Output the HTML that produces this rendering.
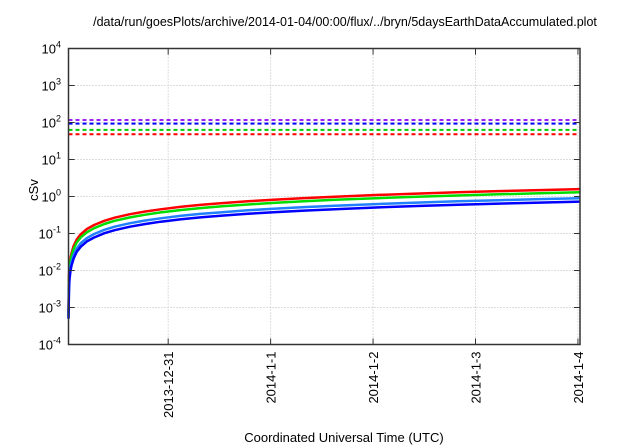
<!DOCTYPE html>
<html><head><meta charset="utf-8"><style>
body{margin:0;background:#fff;}
svg{display:block;font-family:"Liberation Sans",sans-serif;}
</style></head><body>
<svg id="chart" width="640" height="448">
<text x="345" y="26" font-size="12.5" text-anchor="middle">/data/run/goesPlots/archive/2014-01-04/00:00/flux/../bryn/5daysEarthDataAccumulated.plot</text>
<text transform="translate(38,190) rotate(-90)" font-size="13" text-anchor="middle">cSv</text>
<text x="344" y="442" font-size="13" text-anchor="middle">Coordinated Universal Time (UTC)</text>
<g id="grid"></g><g id="series"></g><g id="axes"></g>
</svg>
<script>
const xTickLabels = ["2013-12-31","2014-1-1","2014-1-2","2014-1-3","2014-1-4"];
const xTickValues = [0,1,2,3,4];
const yTickExps = [-4,-3,-2,-1,0,1,2,3,4];
// time in days relative to 2013-12-31 00:00 UTC
const times = [-0.973,-0.968,-0.963,-0.953,-0.943,-0.923,-0.893,-0.853,-0.793,-0.723,-0.623,-0.523,-0.373,-0.223,-0.073,0.127,0.327,0.527,0.777,1.027,1.327,1.627,2.027,2.427,2.827,3.227,3.627,4.02];
const redValues = [0.0007,0.0072,0.0125,0.0218,0.030,0.046,0.069,0.096,0.132,0.170,0.221,0.268,0.333,0.394,0.452,0.526,0.596,0.662,0.742,0.818,0.905,0.990,1.097,1.200,1.300,1.397,1.492,1.583];
const greenValues = [0.0006,0.0059,0.0103,0.0179,0.025,0.038,0.057,0.079,0.108,0.139,0.181,0.220,0.273,0.323,0.371,0.431,0.489,0.543,0.608,0.671,0.742,0.812,0.900,0.984,1.066,1.146,1.223,1.30];
const lightBlueValues = [0.0005,0.0041,0.0071,0.0124,0.0171,0.026,0.039,0.055,0.075,0.097,0.126,0.153,0.190,0.225,0.258,0.300,0.340,0.377,0.423,0.466,0.516,0.564,0.625,0.684,0.741,0.796,0.850,0.90];
const blueValues = [0.0005,0.0033,0.0058,0.0100,0.0138,0.021,0.032,0.044,0.061,0.078,0.102,0.123,0.153,0.181,0.208,0.242,0.274,0.304,0.341,0.376,0.416,0.455,0.504,0.552,0.598,0.642,0.686,0.73];
const thresholdValues = [117,93,63,48];
const thresholdNames = ["threshold-purple","threshold-blue","threshold-green","threshold-red"];
const thresholdColors = ["#a020f0","#0000ff","#00cc00","#ff0000"];

const L=68.5,R=580,T=48.5,B=344.5,X0=-0.973,X1=4.02;
const xs=v=>L+(v-X0)/(X1-X0)*(R-L);
const ys=v=>B-(Math.log10(v)+4)/8*(B-T);
const NS="http://www.w3.org/2000/svg";
function mk(tag,attrs,parent){const e=document.createElementNS(NS,tag);for(const k in attrs)e.setAttribute(k,attrs[k]);parent.appendChild(e);return e;}
const grid=document.getElementById('grid'),series=document.getElementById('series'),axes=document.getElementById('axes');
yTickExps.forEach(e=>{
  const y=ys(Math.pow(10,e));
  if(e>-4&&e<4){const g=mk('line',{x1:L,x2:R,y1:y,y2:y,stroke:'#bbb','stroke-dasharray':'1,2'},grid);
  
  }
  mk('line',{x1:L,x2:L+6,y1:y,y2:y,stroke:'#333'},axes);
  mk('line',{x1:R-6,x2:R,y1:y,y2:y,stroke:'#333'},axes);
  const t=mk('text',{x:61,y:y+5,'font-size':13,'text-anchor':'end'},axes);
  
  
  t.innerHTML='10<tspan dy="-6" font-size="9">'+e+'</tspan>';
});
xTickValues.forEach((v,i)=>{
  const x=xs(v);
  const g=mk('line',{x1:x,x2:x,y1:T,y2:B,stroke:'#bbb','stroke-dasharray':'1,2'},grid);
  
  
  mk('line',{x1:x,x2:x,y1:B-6,y2:B,stroke:'#333'},axes);
  mk('line',{x1:x,x2:x,y1:T,y2:T+6,stroke:'#333'},axes);
  const t=mk('text',{transform:`translate(${x+5},${B+7}) rotate(-90)`,'font-size':13,'text-anchor':'end'},axes);
  
  
  t.textContent=xTickLabels[i];
});
const frame=mk('rect',{x:L,y:T,width:R-L,height:B-T,fill:'none',stroke:'#333','stroke-width':1.5},axes);


thresholdValues.forEach((v,i)=>{
  const l=mk('line',{x1:L,x2:R,y1:ys(v),y2:ys(v),stroke:thresholdColors[i],'stroke-width':2,'stroke-dasharray':'4,3'},series);
  
  
});
[[redValues,'#ff0000','red-dose-line'],[greenValues,'#00dd00','green-dose-line'],[lightBlueValues,'#2080ff','light-blue-dose-line'],[blueValues,'#0000ff','blue-dose-line']].forEach(([vals,c,n])=>{
  const d=times.map((t,i)=>(i?'L':'M')+xs(t).toFixed(1)+','+ys(vals[i]).toFixed(1)).join(' ');
  const p=mk('path',{d:d,fill:'none',stroke:c,'stroke-width':2.5,'stroke-linejoin':'round'},series);
  
  
});
</script>
</body></html>
